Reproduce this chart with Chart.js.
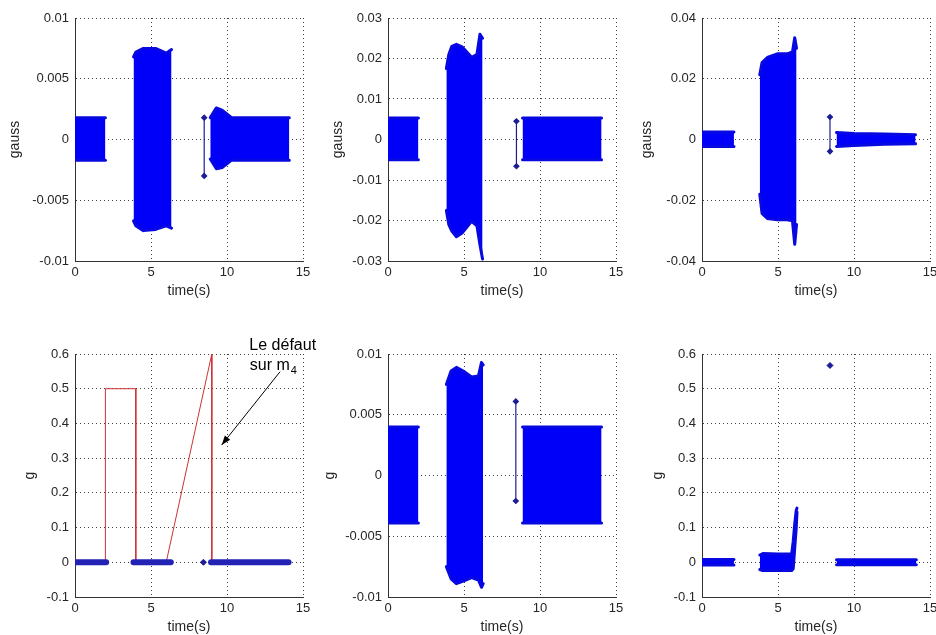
<!DOCTYPE html>
<html>
<head>
<meta charset="utf-8">
<script src="https://cdn.jsdelivr.net/npm/chart.js@4.4.1/dist/chart.umd.min.js"></script>
<style>
  body { margin: 0; background: #fff; }
  #fig { position: relative; width: 936px; height: 635px; overflow: hidden; background: #fff; }
  #fig canvas { position: absolute; }
</style>
</head>
<body>
<div id="fig">
  <canvas id="c1"></canvas>
  <canvas id="c2"></canvas>
  <canvas id="c3"></canvas>
  <canvas id="c4"></canvas>
  <canvas id="c5"></canvas>
  <canvas id="c6"></canvas>
</div>
<script>
// ---- data ----
const xTicks = [0, 5, 10, 15];

// top left (gauss)
const p1Ticks = [-0.01, -0.005, 0, 0.005, 0.01];
const p1T  = [[0, 2.0], [3.85, 4.0, 4.5, 5.3, 6.0, 6.35], [8.9, 9.3, 9.7, 10.3, 14.1]];
const p1Hi = [[0.0018, 0.0018], [0.0068, 0.0072, 0.0075, 0.0075, 0.0071, 0.0074], [0.0018, 0.0026, 0.0024, 0.0018, 0.0018]];
const p1Lo = [[-0.0017, -0.0017], [-0.0067, -0.0071, -0.0075, -0.0074, -0.0071, -0.0073], [-0.0016, -0.0024, -0.0023, -0.0017, -0.0017]];
const p1StickT = [8.5, 8.5];
const p1StickY = [0.0018, -0.003];

// top middle (gauss)
const p2Ticks = [-0.03, -0.02, -0.01, 0, 0.01, 0.02, 0.03];
const p2T  = [[0, 2.0], [3.84, 4.0, 4.2, 4.5, 4.9, 5.5, 5.85, 6.05, 6.22], [8.85, 14.05]];
const p2Hi = [[0.0053, 0.0053], [0.0175, 0.021, 0.023, 0.0235, 0.0228, 0.0203, 0.021, 0.026, 0.025], [0.0053, 0.0053]];
const p2Lo = [[-0.005, -0.005], [-0.0175, -0.021, -0.0226, -0.024, -0.023, -0.0202, -0.0213, -0.026, -0.0295], [-0.005, -0.005]];
const p2StickT = [8.45, 8.45];
const p2StickY = [0.0045, -0.0066];

// top right (gauss)
const p3Ticks = [-0.04, -0.02, 0, 0.02, 0.04];
const p3T  = [[0, 2.1], [3.8, 3.95, 4.3, 4.95, 5.6, 5.95, 6.1, 6.22], [8.85, 10, 12, 14.05]];
const p3Hi = [[0.0025, 0.0025], [0.0213, 0.0253, 0.027, 0.0282, 0.0282, 0.0288, 0.0335, 0.03], [0.0023, 0.002, 0.0018, 0.0016]];
const p3Lo = [[-0.0023, -0.0023], [-0.018, -0.0243, -0.026, -0.0264, -0.0264, -0.0268, -0.0345, -0.028], [-0.0023, -0.002, -0.0016, -0.0014]];
const p3StickT = [8.42, 8.42];
const p3StickY = [0.0074, -0.0039];

// bottom left (g): fault profile in red, measured g in blue
const gTicks = [-0.1, 0, 0.1, 0.2, 0.3, 0.4, 0.5, 0.6];
const p4RedT = [0, 2, 2, 4, 4, 6, 9, 9, 14];
const p4RedY = [0, 0, 0.5, 0.5, 0, 0, 0.6, 0, 0];
const p4BlueT = [[0, 2.05], [3.85, 6.3], [8.95, 14.05]];
const p4BlueY = [[0, 0], [0, 0], [0, 0]];
const p4DotT = [8.45];
const p4DotY = [0];

// bottom middle (g)
const p5Ticks = [-0.01, -0.005, 0, 0.005, 0.01];
const p5T  = [[0, 2.0], [3.84, 4.15, 4.5, 4.95, 5.5, 5.95, 6.15, 6.26], [8.85, 14.05]];
const p5Hi = [[0.004, 0.004], [0.0075, 0.0086, 0.0089, 0.0086, 0.0081, 0.0082, 0.0093, 0.0091], [0.004, 0.004]];
const p5Lo = [[-0.0039, -0.0039], [-0.0075, -0.0085, -0.0089, -0.0087, -0.0084, -0.0086, -0.0092, -0.0089], [-0.0039, -0.0039]];
const p5StickT = [8.41, 8.41];
const p5StickY = [0.0061, -0.0021];

// bottom right (g)
const p6T  = [[-0.05, 2.1], [3.8, 4.0, 5.0, 5.9, 6.0, 6.1, 6.2, 6.25], [8.85, 14.1]];
const p6Hi = [[0.008, 0.008], [0.021, 0.025, 0.024, 0.024, 0.06, 0.11, 0.15, 0.156], [0.007, 0.007]];
const p6Lo = [[-0.008, -0.008], [-0.021, -0.024, -0.024, -0.024, -0.019, 0.04, 0.1, 0.145], [-0.007, -0.007]];
const p6DotT = [8.42];
const p6DotY = [0.567];

// ---- look ----
const FONT = 'Arial, "Liberation Sans", Helvetica, sans-serif';
const BLUE = '#0000f8';
const EDGE = '#0808e0';
const NAVY = '#1c1c96';
const RED = '#cc3333';
const GRID = '#3c3c3c';
const TEXT = '#262626';

const PW = 228, PH = 243, PAD_TOP = 30, PAD_RIGHT = 25, XAXIS_H = 39;

function fmt(v) {
  return String(parseFloat(Number(v).toFixed(4)));
}

function bands(T, HI, LO) {
  const out = [];
  for (let i = 0; i < T.length; i++) {
    out.push({
      data: T[i].map((t, j) => ({ x: t, y: HI[i][j] })),
      borderColor: EDGE, borderWidth: 3, borderCapStyle: 'round', borderJoinStyle: 'round',
      pointRadius: 0, showLine: true, fill: false
    });
    out.push({
      data: T[i].map((t, j) => ({ x: t, y: LO[i][j] })),
      borderColor: EDGE, borderWidth: 3, borderCapStyle: 'round', borderJoinStyle: 'round',
      pointRadius: 0, showLine: true, fill: '-1', backgroundColor: BLUE
    });
  }
  return out;
}

function stick(T, Y) {
  return {
    data: T.map((t, j) => ({ x: t, y: Y[j] })),
    borderColor: NAVY, borderWidth: 1.2, showLine: true,
    pointRadius: 2.5, pointStyle: 'rectRot',
    pointBackgroundColor: NAVY, pointBorderColor: NAVY
  };
}

function dots(T, Y) {
  return {
    data: T.map((t, j) => ({ x: t, y: Y[j] })),
    showLine: false, pointRadius: 3, pointStyle: 'rectRot',
    pointBackgroundColor: NAVY, pointBorderColor: NAVY
  };
}

// annotation on the fault plot (data coordinates)
const noteLine1 = { x: 11.47, y: 0.6115, text: 'Le défaut' };
const noteLine2 = { x: 11.5, y: 0.554, text: 'sur m', sub: '4' };
const arrowFrom = { x: 13.49, y: 0.549 };
const arrowTo = { x: 9.65, y: 0.338 };

const notePlugin = {
  id: 'note',
  afterDraw(chart) {
    const { ctx, scales: { x, y } } = chart;
    ctx.save();
    ctx.fillStyle = '#000';
    ctx.font = '16px ' + FONT;
    ctx.textBaseline = 'alphabetic';
    ctx.textAlign = 'left';
    ctx.fillText(noteLine1.text, x.getPixelForValue(noteLine1.x), y.getPixelForValue(noteLine1.y));
    const sx = x.getPixelForValue(noteLine2.x), sy = y.getPixelForValue(noteLine2.y);
    ctx.fillText(noteLine2.text, sx, sy);
    const w = ctx.measureText(noteLine2.text).width;
    ctx.font = '11px ' + FONT;
    ctx.fillText(noteLine2.sub, sx + w + 1, sy + 4);

    const x1 = x.getPixelForValue(arrowFrom.x), y1 = y.getPixelForValue(arrowFrom.y);
    const x2 = x.getPixelForValue(arrowTo.x), y2 = y.getPixelForValue(arrowTo.y);
    ctx.strokeStyle = '#000';
    ctx.lineWidth = 1;
    ctx.beginPath();
    ctx.moveTo(x1, y1);
    ctx.lineTo(x2, y2);
    ctx.stroke();
    const a = Math.atan2(y2 - y1, x2 - x1), L = 10, s = 0.35;
    ctx.beginPath();
    ctx.moveTo(x2, y2);
    ctx.lineTo(x2 - L * Math.cos(a - s), y2 - L * Math.sin(a - s));
    ctx.lineTo(x2 - L * Math.cos(a + s), y2 - L * Math.sin(a + s));
    ctx.closePath();
    ctx.fillStyle = '#000';
    ctx.fill();
    ctx.restore();
  }
};

function makeChart(id, frame, yMin, yMax, yTicks, yTitle, datasets, plugins) {
  const canvas = document.getElementById(id);
  const left = Math.round(frame.titleX - 8.4);
  const yAxisW = frame.left - left;
  canvas.width = yAxisW + PW + PAD_RIGHT;
  canvas.height = PAD_TOP + PH + XAXIS_H;
  canvas.style.left = left + 'px';
  canvas.style.top = (frame.top - PAD_TOP) + 'px';

  const tickFont = { family: FONT, size: 13 };
  const titleFont = { family: FONT, size: 14 };

  return new Chart(canvas.getContext('2d'), {
    type: 'scatter',
    data: { datasets: datasets },
    options: {
      responsive: false,
      animation: false,
      layout: { padding: { left: 0, top: PAD_TOP, right: PAD_RIGHT, bottom: 0 } },
      plugins: { legend: { display: false }, tooltip: { enabled: false } },
      elements: { line: { tension: 0 } },
      scales: {
        x: {
          type: 'linear', min: 0, max: 15,
          afterBuildTicks: s => { s.ticks = xTicks.map(v => ({ value: v })); },
          afterFit: s => { s.height = XAXIS_H; },
          grid: { color: GRID, lineWidth: 1, drawTicks: false },
          border: { display: true, color: '#333', width: 1, dash: [1, 3] },
          ticks: { font: tickFont, color: TEXT, padding: 4, maxRotation: 0, callback: fmt },
          title: { display: true, text: 'time(s)', font: titleFont, color: TEXT, padding: 0 }
        },
        y: {
          type: 'linear', min: yMin, max: yMax,
          afterBuildTicks: s => { s.ticks = yTicks.map(v => ({ value: v })); },
          afterFit: s => { s.width = yAxisW; },
          grid: { color: GRID, lineWidth: 1, drawTicks: false },
          border: { display: true, color: '#333', width: 1, dash: [1, 3] },
          ticks: { font: tickFont, color: TEXT, padding: 6, callback: fmt },
          title: { display: true, text: yTitle, font: titleFont, color: TEXT, padding: 0 }
        }
      }
    },
    plugins: plugins || []
  });
}

makeChart('c1', { left: 75, top: 18, titleX: 15 }, -0.01, 0.01, p1Ticks, 'gauss',
  bands(p1T, p1Hi, p1Lo).concat([stick(p1StickT, p1StickY)]));

makeChart('c2', { left: 388, top: 18, titleX: 338 }, -0.03, 0.03, p2Ticks, 'gauss',
  bands(p2T, p2Hi, p2Lo).concat([stick(p2StickT, p2StickY)]));

makeChart('c3', { left: 702, top: 18, titleX: 647 }, -0.04, 0.04, p3Ticks, 'gauss',
  bands(p3T, p3Hi, p3Lo).concat([stick(p3StickT, p3StickY)]));

const p4Sets = p4BlueT.map((t, i) => ({
  data: t.map((x, j) => ({ x: x, y: p4BlueY[i][j] })),
  showLine: true, borderColor: '#2222b4', borderWidth: 6, borderCapStyle: 'round',
  pointRadius: 0, order: 0
}));
p4Sets.push(Object.assign(dots(p4DotT, p4DotY), { order: 0 }));
p4Sets.push({
  data: p4RedT.map((x, j) => ({ x: x, y: p4RedY[j] })),
  showLine: true, borderColor: RED, borderWidth: 1, pointRadius: 0, order: 1
});
makeChart('c4', { left: 75, top: 354, titleX: 30 }, -0.1, 0.6, gTicks, 'g', p4Sets, [notePlugin]);

makeChart('c5', { left: 388, top: 354, titleX: 330 }, -0.01, 0.01, p5Ticks, 'g',
  bands(p5T, p5Hi, p5Lo).concat([stick(p5StickT, p5StickY)]));

makeChart('c6', { left: 702, top: 354, titleX: 658 }, -0.1, 0.6, gTicks, 'g',
  bands(p6T, p6Hi, p6Lo).concat([dots(p6DotT, p6DotY)]));
</script>
</body>
</html>
